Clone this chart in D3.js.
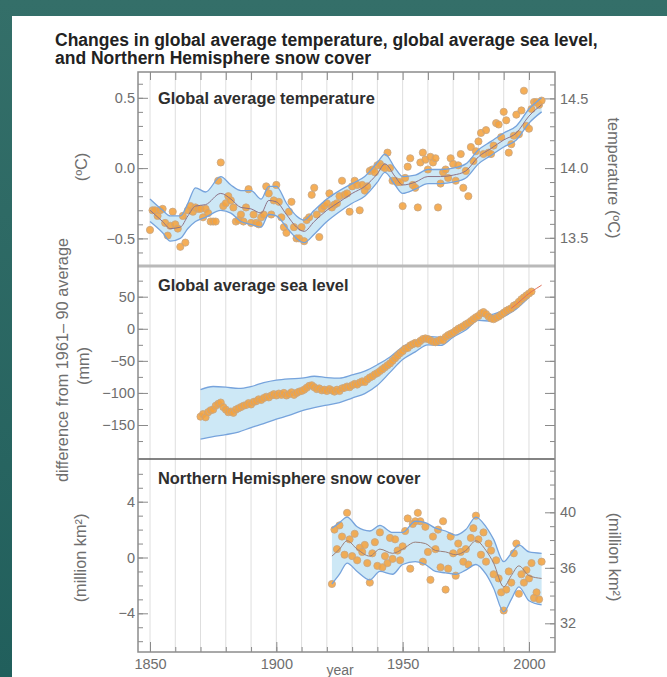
<!DOCTYPE html>
<html>
<head>
<meta charset="utf-8">
<script src="https://cdn.jsdelivr.net/npm/d3@7"></script>
<style>
    body { margin: 0; background: #2b6963; }
    svg { display: block; font-family: "Liberation Sans", Arial, Helvetica, sans-serif; }
</style>
</head>
<body>
<svg id="chart"></svg>
<script>
// ---- annual values ----
const tempYears = d3.range(1850, 2006);
const tempValues = [
    -0.44, -0.30, -0.30, -0.34, -0.30, -0.29, -0.39, -0.48, -0.41, -0.31,
    -0.40, -0.43, -0.56, -0.34, -0.53, -0.30, -0.27, -0.31, -0.28, -0.29,
    -0.29, -0.35, -0.29, -0.32, -0.38, -0.38, -0.38, -0.09, 0.04, -0.27,
    -0.25, -0.20, -0.23, -0.28, -0.38, -0.37, -0.33, -0.38, -0.28, -0.15,
    -0.39, -0.33, -0.39, -0.40, -0.35, -0.33, -0.13, -0.18, -0.33, -0.23,
    -0.12, -0.24, -0.35, -0.42, -0.46, -0.31, -0.24, -0.42, -0.50, -0.50,
    -0.42, -0.52, -0.37, -0.35, -0.19, -0.14, -0.33, -0.49, -0.29, -0.27,
    -0.25, -0.18, -0.28, -0.26, -0.25, -0.20, -0.09, -0.19, -0.18, -0.31,
    -0.13, -0.09, -0.12, -0.30, -0.12, -0.16, -0.13, -0.02, -0.01, -0.03,
    0.02, 0.03, 0.01, 0.00, 0.11, 0.00, -0.09, -0.09, -0.10, -0.10,
    -0.27, -0.07, 0.01, 0.07, -0.12, -0.14, -0.28, 0.04, 0.11, 0.06,
    -0.01, 0.08, 0.04, 0.07, -0.28, -0.11, -0.03, -0.01, -0.07, 0.07,
    0.03, -0.09, 0.02, 0.10, -0.14, -0.02, -0.20, 0.15, 0.05, 0.12,
    0.19, 0.25, 0.10, 0.27, 0.11, 0.10, 0.16, 0.32, 0.31, 0.22,
    0.40, 0.34, 0.11, 0.17, 0.23, 0.38, 0.24, 0.41, 0.55, 0.30,
    0.28, 0.42, 0.47, 0.47, 0.45, 0.48
];
// smoothed curve and uncertainty band
const tempBandYears = [1850, 1855, 1858, 1862, 1865, 1868, 1872, 1878, 1882, 1886, 1890, 1894, 1897, 1900, 1904, 1908, 1911, 1915, 1920, 1925, 1930, 1935, 1940, 1943, 1947, 1950, 1955, 1960, 1965, 1970, 1975, 1980, 1985, 1990, 1995, 2000, 2005];
const tempSmooth = [-0.30, -0.38, -0.43, -0.42, -0.34, -0.27, -0.26, -0.18, -0.22, -0.28, -0.29, -0.32, -0.23, -0.24, -0.33, -0.42, -0.45, -0.38, -0.30, -0.24, -0.18, -0.13, -0.04, 0.03, -0.06, -0.12, -0.10, -0.06, -0.06, -0.05, -0.02, 0.08, 0.14, 0.20, 0.25, 0.37, 0.45];
const tempUpper = [-0.22, -0.30, -0.34, -0.34, -0.25, -0.14, -0.17, -0.06, -0.12, -0.16, -0.16, -0.22, -0.13, -0.13, -0.25, -0.34, -0.37, -0.30, -0.22, -0.16, -0.11, -0.06, 0.04, 0.10, 0.00, -0.06, -0.05, -0.01, -0.01, 0.00, 0.03, 0.13, 0.19, 0.25, 0.30, 0.42, 0.50];
const tempLower = [-0.38, -0.46, -0.52, -0.50, -0.43, -0.38, -0.35, -0.30, -0.32, -0.38, -0.40, -0.42, -0.33, -0.34, -0.42, -0.50, -0.53, -0.47, -0.38, -0.31, -0.25, -0.20, -0.10, -0.03, -0.12, -0.18, -0.15, -0.11, -0.11, -0.10, -0.07, 0.03, 0.09, 0.15, 0.20, 0.32, 0.40];

const seaYears = d3.range(1870, 2002);
const seaValues = [
    -137, -133, -138, -130, -127, -126, -120, -117, -115, -122,
    -126, -130, -129, -131, -126, -124, -122, -120, -119, -116,
    -118, -114, -113, -110, -111, -108, -106, -107, -104, -102,
    -104, -101, -103, -100, -104, -102, -99, -103, -100, -98,
    -97, -95, -92, -89, -88, -91, -94, -93, -96, -95,
    -97, -94, -96, -98, -95, -97, -93, -92, -90, -91,
    -88, -86, -87, -84, -82, -83, -79, -76, -74, -71,
    -69, -66, -63, -60, -57, -54, -50, -46, -42, -38,
    -35, -31, -30, -26, -24, -22, -23, -19, -16, -15,
    -16, -18, -20, -21, -19, -17, -18, -13, -10, -8,
    -6, -3, 0, 2, 4, 7, 9, 12, 15, 18,
    20, 24, 26, 23, 19, 16, 15, 17, 19, 22,
    25, 28, 30, 32, 36, 38, 42, 46, 49, 52,
    55, 58
];
const satYears = [1993, 1995, 1997, 1999, 2001, 2003, 2005];
const satValues = [32, 38, 45, 52, 58, 63, 68];
const seaBandYears = [1870, 1875, 1880, 1885, 1890, 1895, 1900, 1905, 1910, 1915, 1920, 1925, 1930, 1935, 1940, 1945, 1950, 1955, 1960, 1965, 1970, 1975, 1980, 1985, 1990, 1995, 2000];
const seaUpper = [-95, -90, -91, -93, -90, -84, -80, -78, -77, -74, -76, -77, -72, -66, -56, -44, -28, -19, -12, -13, -3, 8, 21, 22, 29, 41, 59];
const seaLower = [-172, -168, -165, -161, -154, -148, -141, -135, -128, -123, -119, -115, -108, -101, -88, -68, -48, -36, -25, -26, -13, -2, 13, 12, 19, 31, 49];

const snowYears = d3.range(1922, 2006);
const snowValues = [
    -1.9, 2.0, 0.6, 2.3, 1.5, 0.2, 3.2, 1.3,
    0.1, 1.7, -0.2, 0.7, 0.4, 0.9, -0.4, -1.8, 0.3, 1.1,
    -0.6, 1.8, -0.7, 0.1, -0.4, 1.4, -0.1, 1.3, 0.5, -0.2,
    0.8, 1.9, 2.8, -0.8, 2.4, 2.6, 3.2, 2.6, -0.3, 2.2,
    0.4, -1.6, 1.5, 0.6, 2.0, -0.7, 2.6, -2.3, -0.8, 1.5,
    0.3, -1.3, 1.0, 0.4, -0.3, 0.6, -0.5, 1.4, 2.1, 3.0,
    1.3, 0.2, 1.8, -0.3, 1.0, 0.5, -1.2, -0.2, -1.5, -2.5,
    -3.8, -2.3, -1.0, -1.8, 0.3, 1.0, -2.6, -1.2, -1.8, -0.9,
    -1.5, -0.4, -2.9, -2.5, -3.0, -0.3
];
const snowBandYears = [1922, 1925, 1928, 1932, 1937, 1941, 1946, 1950, 1955, 1959, 1963, 1967, 1971, 1975, 1979, 1983, 1986, 1990, 1993, 1996, 2000, 2005];
const snowSmooth = [0.1, 0.6, 1.2, 0.6, 0.1, 0.6, 0.3, 0.6, 1.1, 1.0, 0.5, 0.4, 0.2, 0.5, 1.2, 0.5, -0.4, -2.1, -1.3, -0.6, -1.3, -1.5];
const snowUpper = [2.1, 2.5, 2.9, 2.2, 1.9, 2.3, 1.8, 1.8, 2.6, 2.5, 2.1, 1.9, 1.6, 2.0, 2.9, 2.2, 1.3, -0.3, 0.3, 0.9, 0.4, 0.3];
const snowLower = [-1.9, -1.2, -0.4, -1.0, -1.6, -1.0, -1.2, -0.5, -0.3, -0.5, -1.0, -1.1, -1.2, -0.9, -0.5, -1.2, -2.2, -3.9, -3.0, -2.1, -3.1, -3.4];

// ---- ticks ----
const decades = d3.range(1850, 2010, 10);
const yearLabels = [1850, 1900, 1950, 2000];
const tempMajor = [-0.5, 0.0, 0.5];
const tempMinor = [-0.6, -0.5, -0.4, -0.3, -0.2, -0.1, 0.0, 0.1, 0.2, 0.3, 0.4, 0.5, 0.6];
const tempRightMajor = [13.5, 14.0, 14.5];
const tempRightMinor = [13.4, 13.5, 13.6, 13.7, 13.8, 13.9, 14.0, 14.1, 14.2, 14.3, 14.4, 14.5, 14.6];
const seaMajor = [-150, -100, -50, 0, 50];
const seaMinor = [-175, -150, -125, -100, -75, -50, -25, 0, 25, 50, 75];
const snowMajor = [-4, 0, 4];
const snowMinor = [-6, -5, -4, -3, -2, -1, 0, 1, 2, 3, 4, 5, 6];
const snowRightMajor = [32, 36, 40];
const snowRightMinor = [31, 32, 33, 34, 35, 36, 37, 38, 39, 40, 41, 42, 43];

function init() {
    let width = 667,
        height = 677,
        left = 138, right = 555, top = 72, bottom = 652,
        svg = d3.select('#chart').attr('width', width).attr('height', height);

    let grad = svg.append('defs').append('linearGradient')
        .attr('id', 'bg').attr('x1', 0).attr('y1', 0).attr('x2', 0).attr('y2', 1);
    grad.append('stop').attr('offset', '0%').attr('stop-color', '#346f69');
    grad.append('stop').attr('offset', '100%').attr('stop-color', '#215f5c');
    svg.append('rect').attr('width', width).attr('height', height).attr('fill', 'url(#bg)');
    svg.append('rect').attr('x', 12).attr('y', 16)
        .attr('width', width - 12).attr('height', height - 16).attr('fill', 'white');

    let x = d3.scaleLinear().domain([1845.25, 2010.3]).range([left, right]);

    let panels = [
        {top: 72, bottom: 266, y: d3.scaleLinear().domain([-0.5, 0.5]).range([238.4, 97.8])},
        {top: 266, bottom: 459, y: d3.scaleLinear().domain([-150, 50]).range([425, 296.7])},
        {top: 459, bottom: 652, y: d3.scaleLinear().domain([-4, 4]).range([613.3, 501.7])}
    ];
    let yTempRight = d3.scaleLinear().domain([13.5, 14.5]).range([237.8, 98.4]);
    let ySnowRight = d3.scaleLinear().domain([32, 40]).range([623.3, 512.3]);

    // vertical grid
    svg.append('g').selectAll('line')
        .data(decades)
        .enter()
        .append('line')
        .attr('x1', d => x(d)).attr('x2', d => x(d))
        .attr('y1', top).attr('y2', bottom)
        .attr('stroke', '#dedede')
        .attr('stroke-width', 1);

    panels.forEach((p, i) => {
        svg.append('clipPath').attr('id', 'clip' + i)
            .append('rect').attr('x', left).attr('y', p.top)
            .attr('width', right - left).attr('height', p.bottom - p.top);
        p.g = svg.append('g').attr('clip-path', `url(#clip${i})`);
    });

    function band(g, years, upper, lower, y) {
        let pts = years.map((d, i) => ({year: d, hi: upper[i], lo: lower[i]}));
        g.append('path')
            .datum(pts)
            .attr('fill', '#cde8f6')
            .attr('d', d3.area().curve(d3.curveMonotoneX)
                .x(d => x(d.year)).y0(d => y(d.lo)).y1(d => y(d.hi)));
        return pts;
    }
    function bandEdges(g, pts, y) {
        ['hi', 'lo'].forEach(k => {
            g.append('path')
                .datum(pts)
                .attr('fill', 'none')
                .attr('stroke', '#76a3dc')
                .attr('stroke-width', 1.3)
                .attr('d', d3.line().curve(d3.curveMonotoneX).x(d => x(d.year)).y(d => y(d[k])));
        });
    }
    function smoothLine(g, years, values, y, color) {
        g.append('path')
            .datum(years.map((d, i) => [d, values[i]]))
            .attr('fill', 'none')
            .attr('stroke', color)
            .attr('stroke-width', 1)
            .attr('d', d3.line().curve(d3.curveMonotoneX).x(d => x(d[0])).y(d => y(d[1])));
    }
    function dots(g, years, values, y) {
        g.append('g').selectAll('circle')
            .data(years.map((d, i) => [d, values[i]]))
            .enter()
            .append('circle')
            .attr('cx', d => x(d[0]))
            .attr('cy', d => y(d[1]))
            .attr('r', 3.6)
            .attr('fill', '#f4a340')
            .attr('fill-opacity', 0.88)
            .attr('stroke', '#c7a684')
            .attr('stroke-width', 0.8);
    }

    // temperature
    let p0 = panels[0];
    let tb = band(p0.g, tempBandYears, tempUpper, tempLower, p0.y);
    dots(p0.g, tempYears, tempValues, p0.y);
    bandEdges(p0.g, tb, p0.y);
    smoothLine(p0.g, tempBandYears, tempSmooth, p0.y, '#8d7388');

    // sea level
    let p1 = panels[1];
    let sb = band(p1.g, seaBandYears, seaUpper, seaLower, p1.y);
    bandEdges(p1.g, sb, p1.y);
    dots(p1.g, seaYears, seaValues, p1.y);
    smoothLine(p1.g, satYears, satValues, p1.y, '#e0705a');

    // snow cover
    let p2 = panels[2];
    let nb = band(p2.g, snowBandYears, snowUpper, snowLower, p2.y);
    dots(p2.g, snowYears, snowValues, p2.y);
    bandEdges(p2.g, nb, p2.y);
    smoothLine(p2.g, snowBandYears, snowSmooth, p2.y, '#9a7f7a');

    // axes
    function styleAxis(g) {
        g.select('.domain').remove();
        g.selectAll('line').attr('stroke', '#8a8a8a').attr('stroke-width', 1);
        g.selectAll('text').attr('fill', '#6e6e6e').attr('font-size', 14.5)
            .attr('font-family', '"Liberation Sans", Arial, sans-serif');
    }
    function yAxis(scale, majors, minors, fmt, side) {
        let make = side === 'left' ? d3.axisLeft : d3.axisRight;
        let pos = side === 'left' ? left : right;
        svg.append('g').attr('transform', `translate(${pos},0)`)
            .call(make(scale).tickValues(minors).tickSize(-5).tickFormat(''))
            .call(styleAxis);
        svg.append('g').attr('transform', `translate(${pos},0)`)
            .call(make(scale).tickValues(majors).tickSize(-10).tickPadding(side === 'left' ? 3 : 5)
                .tickFormat(fmt || ''))
            .call(styleAxis);
    }
    yAxis(p0.y, tempMajor, tempMinor, d3.format('.1f'), 'left');
    yAxis(yTempRight, tempRightMajor, tempRightMinor, d3.format('.1f'), 'right');
    yAxis(p1.y, seaMajor, seaMinor, d3.format('d'), 'left');
    yAxis(p1.y, seaMajor, seaMinor, null, 'right');
    yAxis(p2.y, snowMajor, snowMinor, d3.format('d'), 'left');
    yAxis(ySnowRight, snowRightMajor, snowRightMinor, d3.format('d'), 'right');

    svg.append('g').attr('transform', `translate(0,${top})`)
        .call(d3.axisTop(x).tickValues(decades).tickSize(-8).tickFormat(''))
        .call(styleAxis);
    svg.append('g').attr('transform', `translate(0,${bottom})`)
        .call(d3.axisBottom(x).tickValues(decades).tickSize(-5).tickFormat(''))
        .call(styleAxis);
    svg.append('g').attr('transform', `translate(0,${bottom})`)
        .call(d3.axisBottom(x).tickValues(yearLabels).tickSize(-10).tickPadding(7).tickFormat(d3.format('d')))
        .call(styleAxis);

    // panel separators and frame
    svg.append('line').attr('x1', left).attr('x2', right).attr('y1', 266).attr('y2', 266)
        .attr('stroke', '#b9b9b9').attr('stroke-width', 3);
    svg.append('line').attr('x1', left).attr('x2', right).attr('y1', 459).attr('y2', 459)
        .attr('stroke', '#5a5a5a').attr('stroke-width', 1.5);
    svg.append('rect').attr('x', left).attr('y', top)
        .attr('width', right - left).attr('height', bottom - top)
        .attr('fill', 'none').attr('stroke', '#8c8c8c').attr('stroke-width', 1.5);

    // titles
    let title = svg.append('text')
        .attr('font-size', 17.5).attr('font-weight', 'bold').attr('fill', '#222');
    title.append('tspan').attr('x', 55).attr('y', 45.5)
        .text('Changes in global average temperature, global average sea level,');
    title.append('tspan').attr('x', 55).attr('y', 64)
        .text('and Northern Hemisphere snow cover');

    let panelTitles = ['Global average temperature', 'Global average sea level', 'Northern Hemisphere snow cover'];
    let panelTitleY = [103.5, 290.5, 483.5];
    svg.selectAll('text.ptitle')
        .data(panelTitles)
        .enter()
        .append('text')
        .attr('class', 'ptitle')
        .attr('x', 158)
        .attr('y', (d, i) => panelTitleY[i])
        .attr('font-size', 16.4)
        .attr('font-weight', 'bold')
        .attr('fill', '#2e2e2e')
        .text(d => d);

    // axis titles
    let axisTitles = [
        {text: '(ºC)', x: 81, y: 167, rot: -90},
        {text: 'difference from 1961– 90 average', x: 62, y: 360, rot: -90},
        {text: '(mm)', x: 83, y: 366, rot: -90},
        {text: '(million km²)', x: 80, y: 558, rot: -90},
        {text: 'temperature (ºC)', x: 614, y: 178, rot: 90},
        {text: '(million km²)', x: 615, y: 557, rot: 90}
    ];
    svg.selectAll('text.atitle')
        .data(axisTitles)
        .enter()
        .append('text')
        .attr('class', 'atitle')
        .attr('transform', d => `translate(${d.x},${d.y}) rotate(${d.rot})`)
        .attr('text-anchor', 'middle')
        .attr('dy', '0.35em')
        .attr('font-size', 16.3)
        .attr('fill', '#6e6e6e')
        .text(d => d.text);

    svg.append('text').attr('x', 340).attr('y', 675)
        .attr('text-anchor', 'middle').attr('font-size', 14).attr('fill', '#6e6e6e')
        .text('year');
}

init();
</script>
</body>
</html>
